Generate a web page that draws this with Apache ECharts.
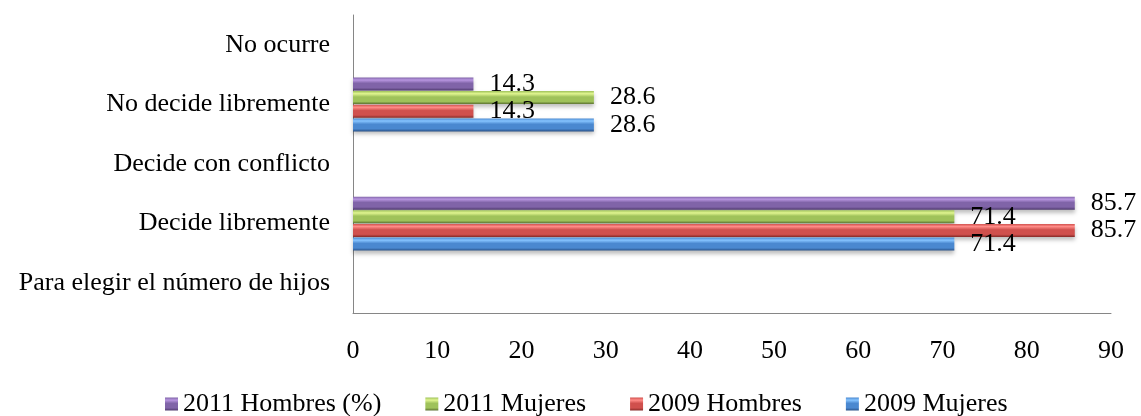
<!DOCTYPE html>
<html>
<head>
<meta charset="utf-8">
<script src="https://cdn.jsdelivr.net/npm/echarts@6/dist/echarts.min.js"></script>
<style>html,body{margin:0;padding:0;background:#fff;}#c{width:1141px;height:416px;}</style>
</head>
<body>
<div id="c"></div>
<script>
const categories = ["Para elegir el número de hijos", "Decide libremente", "Decide con conflicto", "No decide libremente", "No ocurre"];
const mujeres2009 = [null, 71.4, null, 28.6, null];
const hombres2009 = [null, 85.7, null, 14.3, null];
const mujeres2011 = [null, 71.4, null, 28.6, null];
const hombres2011 = [null, 85.7, null, 14.3, null];
const xTicks = [0, 10, 20, 30, 40, 50, 60, 70, 80, 90];

const FONT = "'Liberation Serif','Times New Roman',serif";
function grad(top, mid, bot) {
  return new echarts.graphic.LinearGradient(0, 0, 0, 1, [
    {offset: 0, color: mid}, {offset: 0.2, color: top}, {offset: 0.45, color: mid}, {offset: 0.8, color: mid}, {offset: 1, color: bot}
  ]);
}
function series(name, data, colors) {
  return {
    name: name, type: 'bar', data: data, barWidth: 13, barGap: '5%',
    itemStyle: {color: grad(colors[0], colors[1], colors[2]), shadowColor: 'rgba(0,0,0,0.25)', shadowBlur: 4, shadowOffsetY: 3},
    label: {show: true, position: 'right', distance: 16, color: '#000', fontFamily: FONT, fontSize: 26,
      formatter: p => (p.value == null ? '' : p.value.toFixed(1))}
  };
}
const chart = echarts.init(document.getElementById('c'), null, {renderer: 'canvas'});
chart.setOption({
  animation: false,
  grid: {left: 353, right: 30, top: 15, bottom: 103},
  legend: {
    data: ['2011 Hombres (%)', '2011 Mujeres', '2009 Hombres', '2009 Mujeres'],
    top: 386, left: 160, icon: 'rect', itemWidth: 13, itemHeight: 13, itemGap: 44,
    textStyle: {fontFamily: FONT, fontSize: 26, color: '#000'}
  },
  xAxis: {
    type: 'value', min: xTicks[0], max: xTicks[xTicks.length - 1], interval: 10,
    axisLine: {show: true, lineStyle: {color: '#868686', width: 1}},
    axisTick: {show: false}, splitLine: {show: false},
    axisLabel: {margin: 25, color: '#000', fontFamily: FONT, fontSize: 26}
  },
  yAxis: {
    type: 'category', data: categories,
    axisLine: {show: true, lineStyle: {color: '#868686', width: 1}},
    axisTick: {show: false},
    axisLabel: {margin: 23, color: '#000', fontFamily: FONT, fontSize: 26}
  },
  series: [
    series('2011 Hombres (%)', hombres2011, ['#b896e0', '#8064a8', '#4f3a6e']),
    series('2011 Mujeres', mujeres2011, ['#e0f590', '#9fc25a', '#5a7030']),
    series('2009 Hombres', hombres2009, ['#ff8c88', '#d0504d', '#862a28']),
    series('2009 Mujeres', mujeres2009, ['#86c4ff', '#4a88d0', '#2a5288'])
  ]
});
</script>
</body>
</html>
